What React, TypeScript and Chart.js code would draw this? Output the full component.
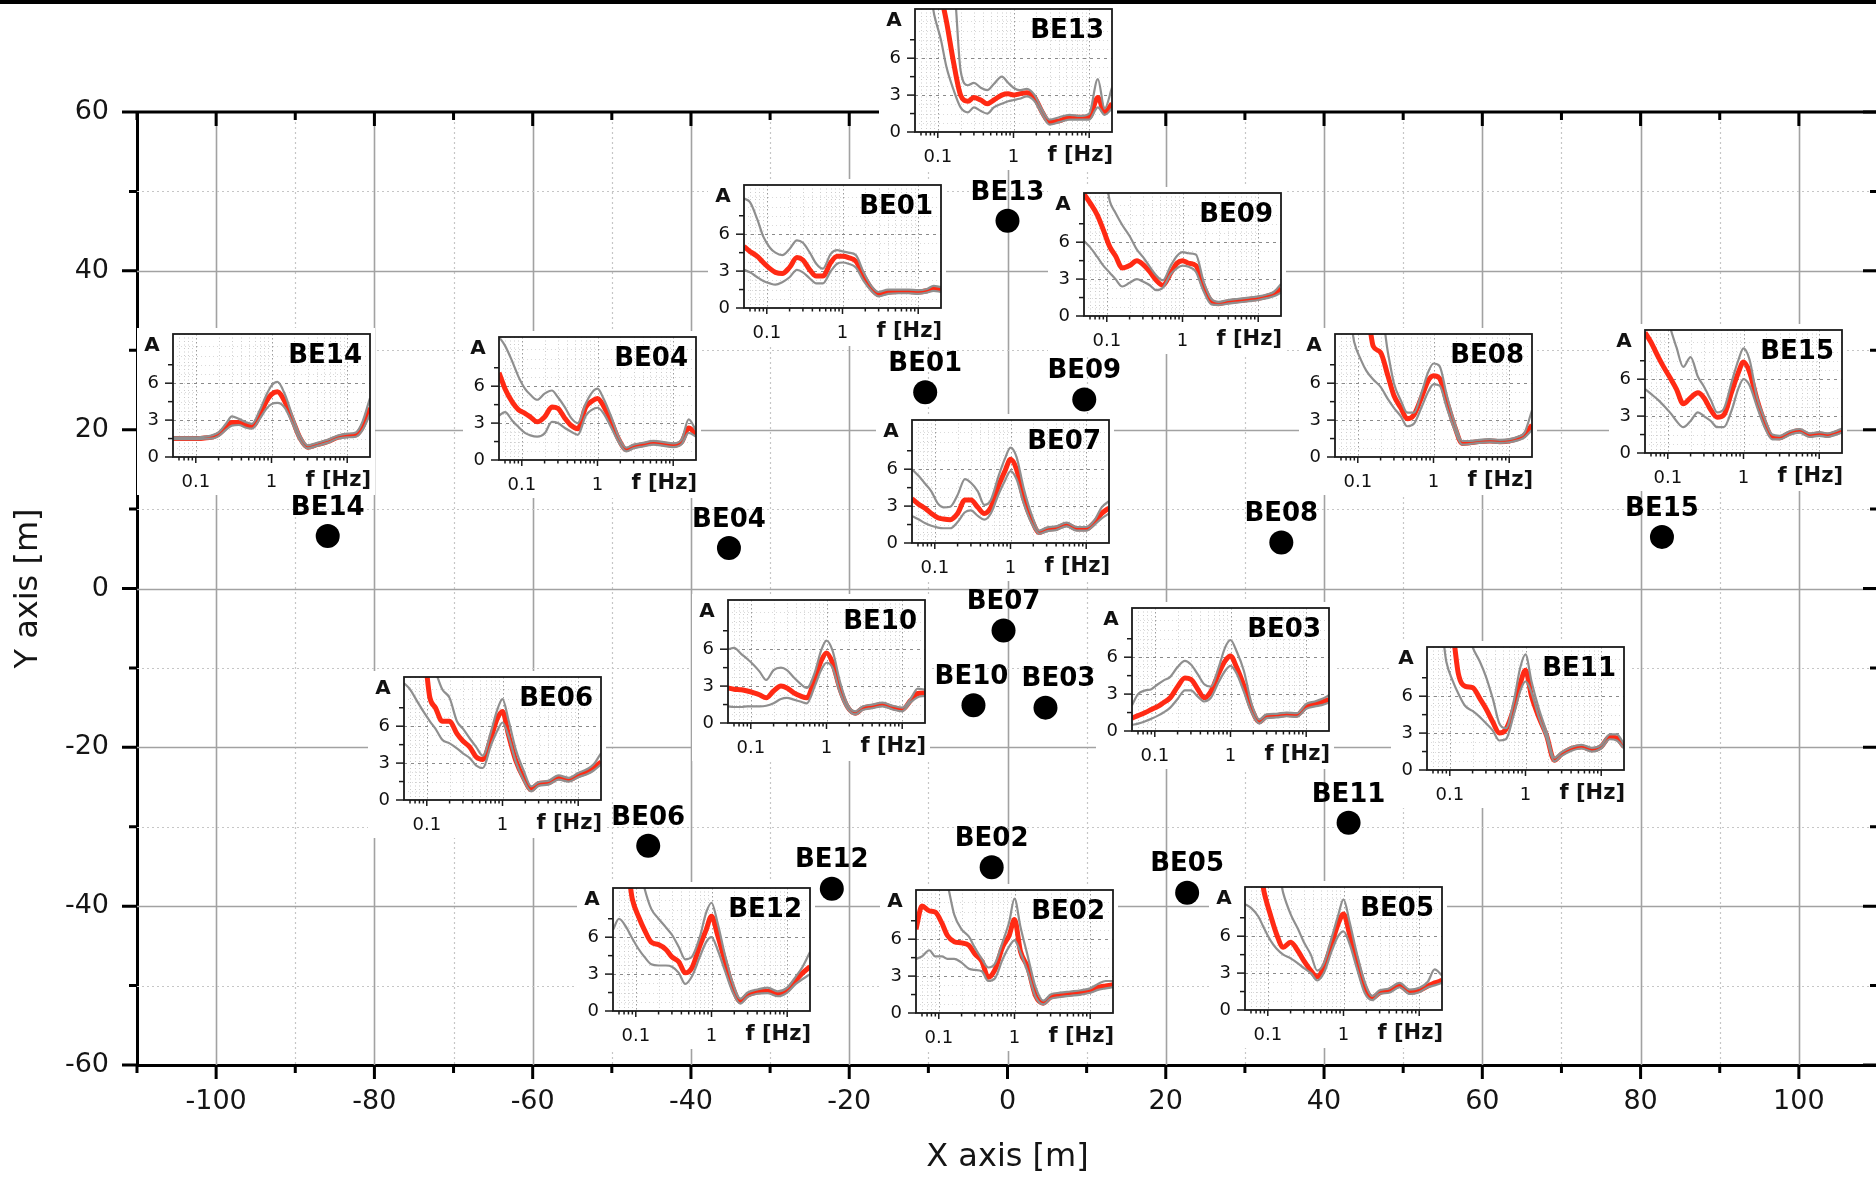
import React, { useEffect, useRef } from "react";
import { Chart, registerables } from "chart.js";
Chart.register(...registerables);

// ---------------- data ----------------
const STATIONS = ["BE01", "BE02", "BE03", "BE04", "BE05", "BE06", "BE07", "BE08", "BE09", "BE10", "BE11", "BE12", "BE13", "BE14", "BE15"];
const STATION_X = [-10.4, -2.0, 4.8, -35.2, 22.7, -45.4, -0.5, 34.6, 9.7, -4.3, 43.1, -22.2, 0.0, -85.9, 82.7];
const STATION_Y = [24.7, -35.1, -15.0, 5.1, -38.3, -32.4, -5.3, 5.8, 23.8, -14.7, -29.5, -37.8, 46.3, 6.6, 6.5];

const X_TICKS = [-110, -100, -90, -80, -70, -60, -50, -40, -30, -20, -10, 0, 10, 20, 30, 40, 50, 60, 70, 80, 90, 100, 110];
const Y_TICKS = [-60, -50, -40, -30, -20, -10, 0, 10, 20, 30, 40, 50, 60];

// inset spectra: frequency grid (Hz) and amplitude A
const FREQ = [0.05, 0.06, 0.075, 0.09, 0.11, 0.13, 0.16, 0.2, 0.25, 0.3, 0.37, 0.45, 0.55, 0.7, 0.85, 1.0, 1.2, 1.5, 1.9, 2.4, 3, 4, 5.5, 7.5, 10, 13, 16, 20];
const F_TICKS = [0.06, 0.07, 0.08, 0.09, 0.1, 0.2, 0.3, 0.4, 0.5, 0.6, 0.7, 0.8, 0.9, 1, 2, 3, 4, 5, 6, 7, 8, 9, 10];
const F_LABELS = [0.1, 1];
const A_TICKS = [1.5, 3, 4.5, 6, 7.5];
const A_LABELS = [0, 3, 6];

const BE13_MEAN = [12, 12, 12, 12, 11, 9, 5.8, 3.0, 2.5, 2.8, 2.6, 2.3, 2.6, 3.0, 3.1, 3.0, 3.1, 3.2, 2.8, 1.6, 0.8, 0.9, 1.2, 1.2, 1.2, 2.8, 1.6, 2.3];
const BE13_HI = [12, 12, 12, 12, 12, 12, 12, 5.0, 3.8, 4.0, 3.6, 3.4, 3.9, 4.5, 4.0, 3.6, 3.4, 3.5, 3.0, 1.8, 1.0, 1.2, 1.4, 1.3, 1.5, 4.3, 1.9, 3.6];
const BE13_LO = [12, 12, 12, 9.5, 7.5, 5.3, 3.5, 2.0, 1.6, 2.0, 1.7, 1.5, 2.0, 2.3, 2.5, 2.6, 2.7, 2.9, 2.5, 1.4, 0.6, 0.8, 1.0, 1.0, 1.0, 2.0, 1.4, 1.9];

const BE01_MEAN = [5.0, 4.6, 4.2, 3.7, 3.2, 2.9, 2.8, 3.3, 4.1, 3.9, 3.1, 2.6, 2.6, 3.7, 4.2, 4.2, 4.1, 3.8, 2.6, 1.6, 1.1, 1.3, 1.35, 1.35, 1.3, 1.4, 1.6, 1.45];
const BE01_HI = [8.9, 8.6, 7.2, 5.8, 4.9, 4.5, 4.3, 4.8, 5.5, 5.3, 4.5, 3.6, 3.2, 4.4, 4.7, 4.6, 4.5, 4.3, 2.9, 1.8, 1.3, 1.5, 1.5, 1.5, 1.45, 1.55, 1.8, 1.7];
const BE01_LO = [3.1, 2.9, 2.5, 2.2, 2.0, 1.9, 2.1, 2.5, 3.1, 2.9, 2.4, 2.0, 2.0, 3.0, 3.6, 3.7, 3.6, 3.3, 2.2, 1.4, 0.95, 1.15, 1.2, 1.2, 1.15, 1.25, 1.4, 1.3];

const BE09_MEAN = [9.9, 9.2, 8.2, 7.0, 5.6, 4.9, 3.9, 4.1, 4.5, 4.2, 3.6, 2.9, 2.5, 3.5, 4.3, 4.5, 4.3, 4.1, 2.4, 1.2, 1.0, 1.15, 1.25, 1.35, 1.45, 1.6, 1.8, 2.2];
const BE09_HI = [12, 12, 12, 12, 9.3, 8.4, 7.4, 6.5, 5.4, 4.8, 4.0, 3.3, 2.9, 4.1, 4.9, 5.2, 5.1, 5.0, 2.8, 1.4, 1.15, 1.3, 1.4, 1.5, 1.6, 1.75, 1.95, 2.6];
const BE09_LO = [6.1, 5.6, 4.8, 4.1, 3.5, 3.0, 2.4, 2.7, 3.0, 2.8, 2.5, 2.1, 2.3, 3.4, 3.9, 4.1, 4.0, 3.6, 2.0, 0.95, 0.9, 1.0, 1.1, 1.2, 1.3, 1.45, 1.6, 1.9];

const BE14_MEAN = [1.5, 1.5, 1.5, 1.5, 1.5, 1.55, 1.6, 1.85, 2.4, 2.8, 2.8, 2.6, 2.45, 3.4, 4.5, 5.1, 5.3, 4.5, 3.0, 1.5, 0.8, 1.0, 1.25, 1.6, 1.75, 1.8, 2.5, 4.0];
const BE14_HI = [1.6, 1.6, 1.6, 1.6, 1.6, 1.65, 1.75, 2.0, 2.7, 3.3, 3.1, 2.85, 2.7, 3.8, 5.0, 5.8, 6.1, 5.1, 3.3, 1.7, 0.95, 1.15, 1.4, 1.75, 1.9, 2.0, 2.9, 4.8];
const BE14_LO = [1.45, 1.45, 1.45, 1.45, 1.45, 1.5, 1.5, 1.7, 2.2, 2.55, 2.6, 2.4, 2.3, 3.1, 3.9, 4.3, 4.4, 4.0, 2.7, 1.3, 0.7, 0.9, 1.15, 1.5, 1.6, 1.65, 2.2, 3.5];

const BE04_MEAN = [7.1, 5.8, 4.7, 4.1, 3.8, 3.5, 3.1, 3.5, 4.3, 4.2, 3.4, 2.8, 2.55, 4.3, 4.8, 5.0, 4.4, 3.2, 1.7, 0.85, 1.1, 1.25, 1.4, 1.3, 1.2, 1.5, 2.6, 2.1];
const BE04_HI = [10, 9.3, 8.0, 6.8, 5.8, 5.3, 4.9, 5.4, 5.65, 5.1, 4.3, 3.4, 3.0, 4.6, 5.5, 5.8, 5.0, 3.6, 1.9, 1.0, 1.25, 1.4, 1.55, 1.45, 1.35, 1.7, 3.3, 2.4];
const BE04_LO = [3.6, 3.9, 3.2, 2.7, 2.2, 2.0, 1.9, 2.15, 3.1, 3.0, 2.6, 2.3, 2.05, 3.6, 4.1, 4.25, 3.8, 2.7, 1.45, 0.7, 0.95, 1.1, 1.25, 1.15, 1.05, 1.3, 2.2, 1.9];

const BE08_MEAN = [12, 12, 12, 12, 12, 12, 9.0, 8.5, 6.6, 5.0, 4.0, 3.1, 3.4, 4.9, 6.2, 6.6, 6.4, 4.5, 2.5, 1.1, 1.15, 1.25, 1.3, 1.25, 1.3, 1.5, 1.8, 2.6];
const BE08_HI = [12, 12, 12, 12, 12, 12, 12, 12, 8.5, 6.0, 4.6, 3.6, 3.6, 5.3, 6.9, 7.6, 7.4, 5.0, 2.8, 1.3, 1.3, 1.4, 1.45, 1.4, 1.45, 1.65, 2.0, 3.8];
const BE08_LO = [12, 12, 12, 9.3, 7.9, 7.0, 6.3, 5.7, 4.7, 4.0, 3.3, 2.5, 2.7, 4.1, 5.3, 5.9, 5.8, 4.0, 2.2, 1.0, 1.05, 1.15, 1.2, 1.15, 1.2, 1.35, 1.6, 2.2];

const BE15_MEAN = [9.8, 9.0, 7.8, 6.9, 6.0, 5.2, 4.0, 4.5, 4.9, 4.5, 3.5, 2.9, 3.1, 5.0, 6.5, 7.4, 6.6, 4.4, 2.5, 1.3, 1.25, 1.6, 1.8, 1.45, 1.55, 1.45, 1.6, 1.8];
const BE15_HI = [12, 12, 12, 12, 10, 8.6, 7.0, 7.8, 6.2, 5.4, 4.3, 3.3, 3.6, 5.8, 7.5, 8.5, 7.6, 4.6, 2.8, 1.5, 1.4, 1.75, 1.95, 1.6, 1.7, 1.6, 1.75, 2.0];
const BE15_LO = [5.2, 4.8, 4.3, 3.8, 3.2, 2.6, 2.1, 2.6, 3.3, 3.0, 2.6, 2.1, 2.1, 3.5, 5.2, 6.0, 5.5, 3.8, 2.1, 1.1, 1.1, 1.45, 1.65, 1.3, 1.4, 1.3, 1.45, 1.65];

const BE11_MEAN = [12, 12, 12, 12, 11, 7.8, 6.8, 6.7, 5.8, 5.0, 3.9, 3.0, 3.3, 5.0, 7.0, 8.1, 6.0, 4.3, 2.8, 0.8, 1.3, 1.75, 1.9, 1.65, 1.9, 2.7, 2.6, 1.9];
const BE11_HI = [12, 12, 12, 12, 12, 12, 12, 10, 8.8, 7.6, 5.8, 3.8, 3.4, 5.6, 8.3, 9.4, 7.2, 5.0, 3.1, 1.0, 1.45, 1.85, 2.05, 1.8, 2.05, 2.9, 2.9, 2.1];
const BE11_LO = [12, 12, 12, 8.8, 7.2, 6.2, 5.2, 4.8, 4.3, 3.8, 3.2, 2.4, 2.5, 4.5, 6.4, 7.2, 6.3, 4.3, 2.6, 0.7, 1.15, 1.55, 1.75, 1.5, 1.75, 2.5, 2.4, 1.75];

const BE07_MEAN = [3.6, 3.2, 2.8, 2.4, 2.05, 1.95, 1.9, 2.4, 3.5, 3.5, 2.9, 2.4, 2.9, 4.7, 5.9, 6.8, 6.0, 3.6, 1.9, 0.85, 1.1, 1.2, 1.5, 1.15, 1.15, 1.7, 2.4, 2.85];
const BE07_HI = [6.0, 5.5, 4.8, 4.2, 3.2, 2.9, 2.95, 3.9, 5.2, 4.9, 4.2, 3.1, 3.5, 5.5, 6.9, 7.75, 7.0, 4.4, 2.3, 1.0, 1.25, 1.35, 1.65, 1.3, 1.3, 1.9, 2.9, 3.4];
const BE07_LO = [2.2, 1.95, 1.6, 1.4, 1.25, 1.2, 1.2, 1.7, 2.5, 2.65, 2.2, 1.9, 2.4, 4.0, 5.1, 5.85, 5.2, 3.2, 1.6, 0.75, 0.95, 1.05, 1.35, 1.0, 1.0, 1.5, 2.0, 2.4];

const BE03_MEAN = [1.05, 1.25, 1.5, 1.75, 2.0, 2.3, 2.7, 3.6, 4.3, 4.2, 3.4, 2.7, 3.2, 4.7, 5.7, 6.1, 5.2, 3.7, 1.8, 0.75, 1.2, 1.25, 1.35, 1.3, 2.0, 2.2, 2.35, 2.55];
const BE03_HI = [2.1, 3.0, 3.3, 3.4, 3.8, 4.1, 4.4, 5.2, 5.7, 5.4, 4.6, 3.8, 3.6, 5.2, 6.8, 7.4, 6.5, 4.9, 2.2, 0.95, 1.35, 1.4, 1.5, 1.45, 2.2, 2.4, 2.6, 2.9];
const BE03_LO = [0.5, 0.6, 0.8, 1.0, 1.25, 1.5, 1.9, 2.6, 3.3, 3.3, 2.8, 2.4, 2.7, 4.0, 4.9, 5.3, 4.7, 3.2, 1.5, 0.6, 1.05, 1.1, 1.2, 1.15, 1.8, 2.0, 2.1, 2.3];

const BE06_MEAN = [12, 12, 12, 12, 8.3, 7.5, 6.4, 6.4, 5.4, 4.8, 4.3, 3.5, 3.3, 5.0, 6.6, 7.2, 5.3, 3.2, 1.8, 0.85, 1.35, 1.4, 1.8, 1.65, 2.0, 2.25, 2.6, 3.1];
const BE06_HI = [12, 12, 12, 12, 12, 10.5, 9.0, 8.3, 6.4, 5.8, 5.0, 4.3, 3.6, 5.5, 7.3, 8.2, 6.5, 4.1, 2.4, 1.1, 1.45, 1.55, 2.0, 1.8, 2.2, 2.5, 2.9, 3.8];
const BE06_LO = [9.5, 9.0, 8.0, 7.2, 6.4, 5.8, 4.9, 4.6, 4.2, 3.8, 3.4, 2.8, 2.6, 4.4, 5.6, 6.3, 5.2, 3.1, 1.6, 0.7, 1.15, 1.25, 1.65, 1.5, 1.85, 2.1, 2.4, 2.9];

const BE10_MEAN = [2.85, 2.75, 2.7, 2.6, 2.45, 2.3, 2.05, 2.6, 3.0, 2.85, 2.45, 2.2, 2.05, 3.6, 5.05, 5.7, 4.9, 2.8, 1.3, 0.8, 1.2, 1.35, 1.5, 1.25, 1.1, 1.85, 2.4, 2.45];
const BE10_HI = [6.0, 6.1, 5.6, 5.2, 4.7, 4.2, 3.5, 4.3, 4.5, 4.3, 3.7, 3.2, 2.85, 4.1, 5.9, 6.7, 5.9, 3.4, 1.5, 0.95, 1.35, 1.5, 1.65, 1.4, 1.25, 2.0, 2.8, 2.7];
const BE10_LO = [1.35, 1.3, 1.3, 1.35, 1.35, 1.35, 1.4, 1.6, 1.95, 2.05, 1.9, 1.75, 1.6, 3.0, 4.3, 4.9, 4.5, 2.5, 1.15, 0.7, 1.05, 1.2, 1.35, 1.1, 0.95, 1.7, 2.1, 2.2];

const BE12_MEAN = [12, 12, 12, 9.1, 7.6, 6.6, 5.6, 5.4, 5.0, 4.4, 4.0, 3.1, 3.5, 5.3, 6.6, 7.7, 6.2, 4.1, 1.95, 0.8, 1.3, 1.55, 1.6, 1.4, 1.7, 2.5, 3.1, 3.6];
const BE12_HI = [12, 12, 12, 12, 12, 10, 8.3, 7.5, 6.8, 6.2, 5.2, 4.2, 4.4, 6.0, 8.0, 8.8, 7.2, 4.6, 2.3, 1.0, 1.5, 1.75, 1.9, 1.6, 1.9, 2.8, 3.6, 4.8];
const BE12_LO = [6.6, 7.5, 6.8, 5.9, 5.0, 4.4, 3.8, 3.7, 3.7, 3.6, 3.1, 2.2, 2.8, 4.4, 5.6, 6.0, 5.0, 3.3, 1.55, 0.6, 1.15, 1.4, 1.45, 1.2, 1.5, 2.2, 2.6, 3.0];

const BE02_MEAN = [6.8, 8.7, 8.3, 8.2, 7.3, 6.3, 5.8, 5.7, 5.5, 4.8, 4.2, 2.9, 3.5, 5.4, 6.3, 7.6, 5.0, 3.7, 1.4, 0.8, 1.3, 1.45, 1.55, 1.65, 1.8, 2.1, 2.2, 2.3];
const BE02_HI = [12, 12, 12, 12, 12, 10.5, 8.0, 6.8, 6.2, 5.3, 4.4, 3.7, 4.0, 5.8, 7.4, 9.3, 7.0, 4.6, 2.1, 1.0, 1.5, 1.65, 1.75, 1.85, 2.0, 2.4, 2.6, 2.6];
const BE02_LO = [4.4, 4.6, 5.1, 4.6, 4.6, 4.4, 4.4, 4.1, 3.6, 3.5, 3.4, 2.6, 2.8, 4.4, 5.4, 5.9, 4.9, 3.3, 1.3, 0.7, 1.15, 1.3, 1.4, 1.5, 1.65, 1.9, 2.0, 2.1];

const BE05_MEAN = [12, 12, 12, 9.5, 7.6, 6.2, 5.1, 5.5, 4.8, 4.0, 3.2, 2.7, 3.5, 5.4, 7.0, 7.8, 6.2, 4.0, 1.9, 1.0, 1.4, 1.6, 2.0, 1.45, 1.6, 1.95, 2.2, 2.4];
const BE05_HI = [12, 12, 12, 12, 12, 12, 9.5, 7.8, 6.6, 5.5, 4.5, 3.2, 3.8, 5.9, 7.7, 9.0, 7.2, 4.6, 2.3, 1.15, 1.6, 1.75, 2.2, 1.65, 1.8, 2.3, 3.3, 2.8];
const BE05_LO = [8.6, 8.3, 7.6, 6.6, 5.6, 5.0, 4.5, 4.2, 3.8, 3.4, 3.0, 2.4, 3.0, 4.8, 6.0, 6.4, 5.4, 3.4, 1.4, 0.8, 1.3, 1.4, 1.85, 1.3, 1.45, 1.85, 2.0, 2.2];

type Curve = { name: string; mean: number[]; hi: number[]; lo: number[] };
const CURVES: Curve[] = [
  { name: "BE13", mean: BE13_MEAN, hi: BE13_HI, lo: BE13_LO },
  { name: "BE01", mean: BE01_MEAN, hi: BE01_HI, lo: BE01_LO },
  { name: "BE09", mean: BE09_MEAN, hi: BE09_HI, lo: BE09_LO },
  { name: "BE14", mean: BE14_MEAN, hi: BE14_HI, lo: BE14_LO },
  { name: "BE04", mean: BE04_MEAN, hi: BE04_HI, lo: BE04_LO },
  { name: "BE08", mean: BE08_MEAN, hi: BE08_HI, lo: BE08_LO },
  { name: "BE15", mean: BE15_MEAN, hi: BE15_HI, lo: BE15_LO },
  { name: "BE07", mean: BE07_MEAN, hi: BE07_HI, lo: BE07_LO },
  { name: "BE11", mean: BE11_MEAN, hi: BE11_HI, lo: BE11_LO },
  { name: "BE03", mean: BE03_MEAN, hi: BE03_HI, lo: BE03_LO },
  { name: "BE10", mean: BE10_MEAN, hi: BE10_HI, lo: BE10_LO },
  { name: "BE06", mean: BE06_MEAN, hi: BE06_HI, lo: BE06_LO },
  { name: "BE12", mean: BE12_MEAN, hi: BE12_HI, lo: BE12_LO },
  { name: "BE02", mean: BE02_MEAN, hi: BE02_HI, lo: BE02_LO },
  { name: "BE05", mean: BE05_MEAN, hi: BE05_HI, lo: BE05_LO },
];

// ---------------- layout / style ----------------
const W = 1876;
const H = 1177;
const FONT = "'DejaVu Sans', Verdana, sans-serif";
const RED = "#ff2a14";
const GREY = "#8f8f8f";

// horizontal nudge (px) of a few station labels to avoid collisions
const LABEL_DX: Record<string, number> = { BE03: 13, BE10: -2 };

// top-left corner of each inset's plotting box (page pixels)
const INSET_POS: Record<string, [number, number]> = {
  BE13: [915, 9],
  BE01: [744, 185],
  BE09: [1084, 193],
  BE14: [173, 334],
  BE04: [499, 337],
  BE08: [1335, 334],
  BE15: [1645, 330],
  BE11: [1427, 647],
  BE07: [912, 420],
  BE03: [1132, 608],
  BE06: [404, 677],
  BE10: [728, 600],
  BE12: [613, 888],
  BE02: [916, 890],
  BE05: [1245, 887],
};
const PW = 197;
const PH = 123;
const IPL = 36;
const IPT = 6;
const IPR = 5;
const IPB = 38;

// ---------------- main chart plugins ----------------
const mainDecor = {
  id: "mainDecor",
  beforeDatasetsDraw(chart: any) {
    const { ctx, chartArea: a, scales } = chart;
    const x = scales.x;
    const y = scales.y;
    ctx.save();
    for (const v of X_TICKS) {
      if (v === -110 || v === 110) continue;
      const px = Math.round(x.getPixelForValue(v)) + 0.5;
      const major = v % 20 === 0;
      ctx.strokeStyle = major ? "#a2a2a2" : "#c6c6c6";
      ctx.lineWidth = major ? 1.6 : 1.2;
      ctx.setLineDash(major ? [] : [2, 3]);
      ctx.beginPath();
      ctx.moveTo(px, a.top);
      ctx.lineTo(px, a.bottom);
      ctx.stroke();
    }
    for (const v of Y_TICKS) {
      if (v === -60 || v === 60) continue;
      const py = Math.round(y.getPixelForValue(v)) + 0.5;
      const major = v % 20 === 0;
      ctx.strokeStyle = major ? "#a2a2a2" : "#c6c6c6";
      ctx.lineWidth = major ? 1.6 : 1.2;
      ctx.setLineDash(major ? [] : [2, 3]);
      ctx.beginPath();
      ctx.moveTo(a.left, py);
      ctx.lineTo(a.right, py);
      ctx.stroke();
    }
    ctx.setLineDash([]);
    ctx.strokeStyle = "#000";
    ctx.lineWidth = 3;
    ctx.beginPath();
    ctx.moveTo(a.left, a.top);
    ctx.lineTo(a.right, a.top);
    ctx.moveTo(a.right, a.top);
    ctx.lineTo(a.right, a.bottom);
    ctx.stroke();
    for (const v of X_TICKS) {
      const px = x.getPixelForValue(v);
      const len = v % 20 === 0 ? 14 : 8;
      ctx.beginPath();
      ctx.moveTo(px, a.bottom);
      ctx.lineTo(px, a.bottom + len);
      ctx.moveTo(px, a.top);
      ctx.lineTo(px, a.top + len);
      ctx.stroke();
    }
    for (const v of Y_TICKS) {
      const py = y.getPixelForValue(v);
      const len = v % 20 === 0 ? 15 : 8;
      ctx.beginPath();
      ctx.moveTo(a.left, py);
      ctx.lineTo(a.left - len, py);
      ctx.moveTo(a.right, py);
      ctx.lineTo(a.right - len, py);
      ctx.stroke();
    }
    ctx.restore();
  },
  afterDatasetsDraw(chart: any) {
    const { ctx } = chart;
    const meta = chart.getDatasetMeta(0);
    ctx.save();
    ctx.fillStyle = "#000";
    ctx.font = `bold 26px ${FONT}`;
    ctx.textAlign = "center";
    ctx.textBaseline = "middle";
    meta.data.forEach((pt: any, i: number) => {
      const dx = LABEL_DX[STATIONS[i]] || 0;
      ctx.fillText(STATIONS[i], pt.x + dx, pt.y - 28);
    });
    ctx.restore();
  },
};

function MainChart() {
  const ref = useRef<HTMLCanvasElement | null>(null);
  useEffect(() => {
    if (!ref.current) return;
    const chart = new Chart(ref.current, {
      type: "scatter",
      data: {
        datasets: [
          {
            data: STATIONS.map((_, i) => ({ x: STATION_X[i], y: STATION_Y[i] })),
            pointRadius: 12,
            pointHoverRadius: 12,
            backgroundColor: "#000",
            borderColor: "#000",
            borderWidth: 0,
          },
        ],
      },
      options: {
        responsive: false,
        animation: false,
        devicePixelRatio: 1,
        events: [],
        layout: { padding: { left: 0, top: 112, right: 22, bottom: 0 } },
        plugins: { legend: { display: false }, tooltip: { enabled: false } },
        scales: {
          x: {
            type: "linear",
            min: -110,
            max: 110,
            afterBuildTicks: (s: any) => {
              s.ticks = X_TICKS.map((v) => ({ value: v }));
            },
            afterFit: (s: any) => {
              s.height = 112;
            },
            ticks: {
              autoSkip: false,
              maxRotation: 0,
              padding: 7,
              color: "#151515",
              font: { family: FONT, size: 27 },
              callback: (v: any) => (v % 20 === 0 && Math.abs(v) <= 100 ? String(v) : ""),
            },
            grid: { display: true, drawOnChartArea: false, drawTicks: true, tickLength: 14, tickColor: "rgba(0,0,0,0)" },
            border: { display: true, color: "#000", width: 3 },
            title: { display: true, text: "X axis [m]", color: "#151515", font: { family: FONT, size: 32 }, padding: { top: 0, bottom: 0 } },
          },
          y: {
            type: "linear",
            min: -60,
            max: 60,
            afterBuildTicks: (s: any) => {
              s.ticks = Y_TICKS.map((v) => ({ value: v }));
            },
            afterFit: (s: any) => {
              s.width = 137;
            },
            ticks: {
              autoSkip: false,
              padding: 13,
              color: "#151515",
              font: { family: FONT, size: 27 },
              callback: (v: any) => (v % 20 === 0 ? String(v) : ""),
            },
            grid: { display: true, drawOnChartArea: false, drawTicks: true, tickLength: 15, tickColor: "rgba(0,0,0,0)" },
            border: { display: true, color: "#000", width: 3 },
            title: { display: true, text: "Y axis [m]", color: "#151515", font: { family: FONT, size: 32 }, padding: { top: 9, bottom: 0 } },
          },
        },
      },
      plugins: [mainDecor],
    } as any);
    return () => chart.destroy();
  }, []);
  return (
    <canvas
      ref={ref}
      width={1900}
      height={H}
      style={{ position: "absolute", left: 0, top: 0, width: 1900, height: H }}
    />
  );
}

// ---------------- inset plugin ----------------
function insetDecor(name: string) {
  return {
    id: "insetDecor",
    beforeDatasetsDraw(chart: any) {
      const { ctx, chartArea: a, scales } = chart;
      const x = scales.x;
      const y = scales.y;
      ctx.save();
      ctx.lineWidth = 1;
      for (const v of F_TICKS) {
        const px = Math.round(x.getPixelForValue(v)) + 0.5;
        const dec = v === 0.1 || v === 1 || v === 10;
        ctx.strokeStyle = dec ? "#9c9c9c" : "#cdcdcd";
        ctx.setLineDash(dec ? [1.5, 2.5] : [1, 2.5]);
        ctx.beginPath();
        ctx.moveTo(px, a.top);
        ctx.lineTo(px, a.bottom);
        ctx.stroke();
      }
      for (const v of [0.75, 1.5, 2.25, 3.75, 4.5, 5.25, 6.75, 7.5, 8.25, 9]) {
        const py = Math.round(y.getPixelForValue(v)) + 0.5;
        ctx.strokeStyle = "#dadada";
        ctx.setLineDash([1, 3]);
        ctx.beginPath();
        ctx.moveTo(a.left, py);
        ctx.lineTo(a.right, py);
        ctx.stroke();
      }
      for (const v of [3, 6]) {
        const py = Math.round(y.getPixelForValue(v)) + 0.5;
        ctx.strokeStyle = "#8a8a8a";
        ctx.lineWidth = 1.2;
        ctx.setLineDash([3, 4]);
        ctx.beginPath();
        ctx.moveTo(a.left, py);
        ctx.lineTo(a.right, py);
        ctx.stroke();
      }
      ctx.restore();
    },
    afterDatasetsDraw(chart: any) {
      const { ctx, chartArea: a, scales } = chart;
      const x = scales.x;
      const y = scales.y;
      ctx.save();
      ctx.strokeStyle = "#1a1a1a";
      ctx.lineWidth = 1.8;
      ctx.strokeRect(a.left, a.top, a.right - a.left, a.bottom - a.top);
      ctx.lineWidth = 1.5;
      for (const v of [0, ...A_TICKS]) {
        const py = y.getPixelForValue(v);
        const len = v % 3 === 0 ? 8 : 5;
        ctx.beginPath();
        ctx.moveTo(a.left, py);
        ctx.lineTo(a.left - len, py);
        ctx.stroke();
      }
      for (const v of F_TICKS) {
        const px = x.getPixelForValue(v);
        const dec = v === 0.1 || v === 1 || v === 10;
        ctx.beginPath();
        ctx.moveTo(px, a.bottom);
        ctx.lineTo(px, a.bottom + (dec ? 6 : 3.5));
        ctx.stroke();
      }
      ctx.fillStyle = "#111";
      ctx.textBaseline = "middle";
      ctx.font = `18px ${FONT}`;
      ctx.textAlign = "right";
      for (const v of A_LABELS) {
        ctx.fillText(String(v), a.left - 14, y.getPixelForValue(v));
      }
      ctx.textAlign = "center";
      for (const v of F_LABELS) {
        ctx.fillText(String(v), x.getPixelForValue(v), a.bottom + 25);
      }
      ctx.font = `bold 21px ${FONT}`;
      ctx.textAlign = "right";
      ctx.fillText("f [Hz]", a.right + 1, a.bottom + 24);
      ctx.font = `bold 20px ${FONT}`;
      ctx.textAlign = "center";
      ctx.fillText("A", a.left - 21, a.top + 12);
      ctx.fillStyle = "#000";
      ctx.font = `bold 26px ${FONT}`;
      ctx.textAlign = "right";
      ctx.fillText(name, a.right - 8, a.top + 22);
      ctx.restore();
    },
  };
}

function Inset({ c }: { c: Curve }) {
  const ref = useRef<HTMLCanvasElement | null>(null);
  const [px, py] = INSET_POS[c.name];
  const cw = IPL + PW + IPR;
  const ch = IPT + PH + IPB;
  useEffect(() => {
    if (!ref.current) return;
    const mk = (arr: number[]) => FREQ.map((f, i) => ({ x: f, y: arr[i] }));
    const common = { pointRadius: 0, fill: false, clip: 0, cubicInterpolationMode: "monotone" };
    const chart = new Chart(ref.current, {
      type: "line",
      data: {
        datasets: [
          { ...common, data: mk(c.hi), borderColor: GREY, borderWidth: 2.2 },
          { ...common, data: mk(c.lo), borderColor: GREY, borderWidth: 2.2 },
          { ...common, data: mk(c.mean), borderColor: RED, borderWidth: 5 },
        ],
      },
      options: {
        responsive: false,
        animation: false,
        devicePixelRatio: 1,
        events: [],
        layout: { padding: { left: 0, top: IPT, right: IPR, bottom: 0 } },
        plugins: { legend: { display: false }, tooltip: { enabled: false } },
        scales: {
          x: {
            type: "logarithmic",
            min: 0.05,
            max: 20,
            ticks: { display: false },
            grid: { display: false },
            border: { display: false },
            afterFit: (s: any) => {
              s.height = IPB;
            },
          },
          y: {
            type: "linear",
            min: 0,
            max: 10,
            ticks: { display: false },
            grid: { display: false },
            border: { display: false },
            afterFit: (s: any) => {
              s.width = IPL;
            },
          },
        },
      },
      plugins: [insetDecor(c.name)],
    } as any);
    return () => chart.destroy();
  }, []);
  return (
    <canvas
      ref={ref}
      width={cw}
      height={ch}
      style={{ position: "absolute", left: px - IPL, top: py - IPT, width: cw, height: ch, background: "#fff" }}
    />
  );
}

export default function App() {
  return (
    <div style={{ position: "absolute", left: 0, top: 0, width: W, height: H, overflow: "hidden", background: "#fff" }}>
      <MainChart />
      {CURVES.map((c) => (
        <Inset key={c.name} c={c} />
      ))}
      <div style={{ position: "absolute", left: 0, top: 0, width: W, height: 4, background: "#000" }} />
    </div>
  );
}
